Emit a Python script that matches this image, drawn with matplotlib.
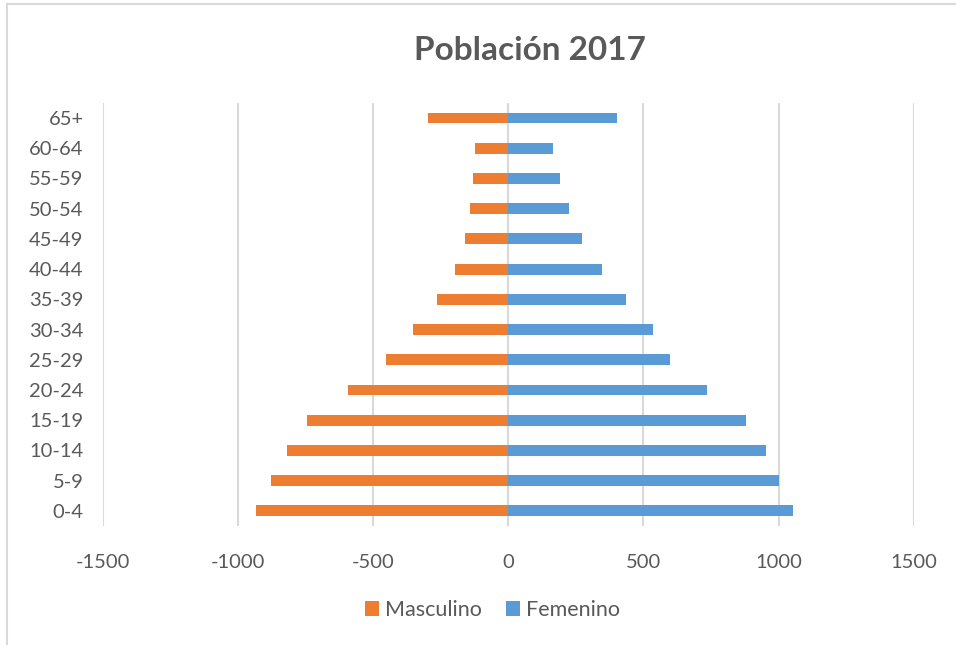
"""
population pyramid 2017
"""
import matplotlib.pyplot as plt
from matplotlib.lines import Line2D

plt.rcParams['font.family'] = ['Lato', 'DejaVu Sans']

grupos = ["0-4", "5-9", "10-14", "15-19", "20-24", "25-29", "30-34",
          "35-39", "40-44", "45-49", "50-54", "55-59", "60-64", "65+"]
masculino = [932, 879, 819, 745, 595, 453, 352, 264, 198, 161, 140, 132, 122, 297]
femenino = [1055, 1003, 952, 878, 735, 597, 536, 436, 347, 273, 224, 191, 164, 403]
xticks = [-1500, -1000, -500, 0, 500, 1000, 1500]

gris = "#595959"

fig = plt.figure(figsize=(9.56, 6.45), dpi=100)
ax = fig.add_axes([0.1077, 0.1845, 0.848, 0.656])

y = range(len(grupos))
ax.barh(y, [-v for v in masculino], height=0.36, color="#ED7D31",
        label="Masculino", zorder=3)
ax.barh(y, femenino, height=0.36, color="#5B9BD5", label="Femenino", zorder=3)

ax.set_xlim(-1500, 1500)
ax.set_ylim(-0.5, len(grupos) - 0.5)
ax.set_xticks(xticks)
ax.set_xticklabels([str(t) for t in xticks])
ax.set_yticks(list(y))
ax.set_yticklabels(grupos)
ax.tick_params(length=0, labelsize=14.5, colors=gris)
ax.tick_params(axis="x", pad=20)
ax.tick_params(axis="y", pad=14)
ax.grid(axis="x", color="#d9d9d9", linewidth=1.5, zorder=0)
for s in ax.spines.values():
    s.set_visible(False)

fig.text(0.554, 0.922, "Población 2017", ha="center", va="center",
         fontsize=24, fontweight="bold", color=gris)

fig.legend(loc="center", bbox_to_anchor=(0.515, 0.054), ncol=2, frameon=False,
           fontsize=15.5, handlelength=0.65, handleheight=0.65, handletextpad=0.3,
           columnspacing=1.1, labelcolor=gris)

# light frame on the top and left edge
fig.lines.append(Line2D([0.0075, 1.0], [0.9935, 0.9935], transform=fig.transFigure,
                        color="#d9d9d9", linewidth=1.5))
fig.lines.append(Line2D([0.0075, 0.0075], [0.0, 0.9935], transform=fig.transFigure,
                        color="#d9d9d9", linewidth=1.5))

fig.savefig("out.png", dpi=100)
